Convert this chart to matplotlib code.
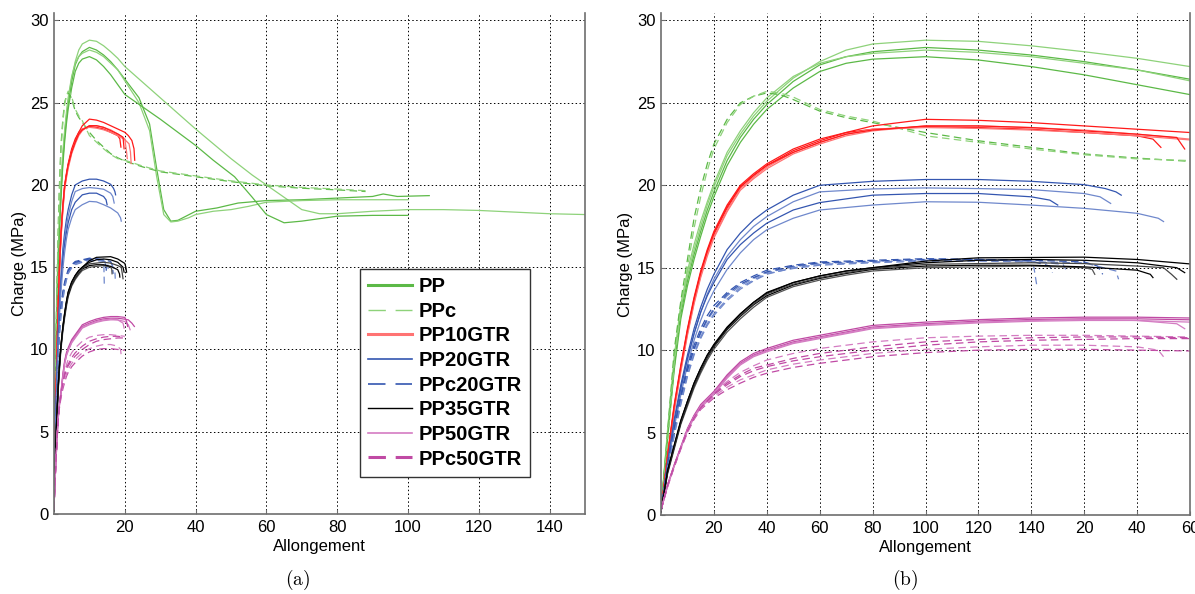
import matplotlib
matplotlib.use("Agg")
import matplotlib.pyplot as plt
from matplotlib.lines import Line2D

plt.rcParams['font.family'] = ['Liberation Sans', 'DejaVu Sans']

# elongation (panel a units) / load (MPa)
# PP (green solid): rising part shared x, then each test's own tail
pp_x = [0, 0.25, 0.5, 0.75, 1, 1.25, 1.5, 1.75, 2, 2.5, 3, 3.5, 4, 5, 6, 7, 8, 10, 12, 14, 16, 18, 20]
pp1_y = [0.3, 5.0, 9.3, 12.5, 14.5, 16.1, 17.5, 18.8, 19.9, 21.8, 23.1, 24.2, 25.1, 26.5, 27.5, 28.2, 28.57, 28.8, 28.73, 28.46, 28.1, 27.7, 27.2]
pp1_tx = [30, 40, 50, 56, 60, 65, 70, 75, 80, 90, 100, 110, 120, 130, 140, 150]
pp1_ty = [25.3, 23.4, 21.6, 20.6, 20.0, 19.25, 18.5, 18.25, 18.25, 18.4, 18.5, 18.5, 18.45, 18.35, 18.25, 18.2]
pp2_y = [0.3, 4.8, 9.0, 12.2, 14.2, 15.8, 17.2, 18.5, 19.6, 21.5, 22.9, 24.0, 24.9, 26.3, 27.3, 27.8, 28.1, 28.36, 28.2, 27.9, 27.5, 27.0, 26.5]
pp2_tx = [24, 27, 29, 31, 33, 35, 40, 46, 52, 60, 70, 80, 90, 93, 97, 106]
pp2_ty = [25.3, 23.7, 21.0, 18.5, 17.8, 17.85, 18.4, 18.6, 18.9, 19.05, 19.1, 19.2, 19.3, 19.45, 19.3, 19.35]
pp3_y = [0.3, 5.2, 9.6, 12.8, 14.8, 16.4, 17.8, 19.0, 20.1, 22.0, 23.3, 24.4, 25.3, 26.6, 27.4, 27.8, 28.0, 28.2, 28.06, 27.8, 27.4, 27.0, 26.4]
pp3_tx = [24, 27, 29, 31, 33, 35, 38, 40, 45, 50, 55, 60, 70, 80, 90, 100]
pp3_ty = [25.0, 23.3, 20.5, 18.2, 17.75, 17.8, 18.0, 18.2, 18.4, 18.5, 18.7, 18.95, 19.05, 19.1, 19.1, 19.1]
pp4_y = [0.3, 4.6, 8.8, 11.9, 13.9, 15.5, 16.9, 18.2, 19.3, 21.2, 22.6, 23.7, 24.6, 25.9, 26.9, 27.4, 27.65, 27.8, 27.6, 27.2, 26.7, 26.1, 25.5]
pp4_tx = [30, 40, 45, 51, 56, 60, 65, 70, 80, 90, 100]
pp4_ty = [24.0, 22.4, 21.5, 20.5, 19.25, 18.2, 17.7, 17.8, 18.1, 18.15, 18.15]

# PPc (green dashed)
ppc_x = [0, 0.25, 0.5, 0.75, 1, 1.25, 1.5, 1.75, 2, 2.5, 3, 3.5, 4, 4.5, 5, 6, 7, 8, 10, 12, 14, 16, 18, 20, 25, 30, 40, 50, 60, 70, 80, 88]
ppc1_y = [0.3, 5.0, 10.0, 13.0, 15.5, 18.0, 19.8, 21.3, 22.5, 24.0, 25.0, 25.4, 25.6, 25.5, 25.2, 24.5, 24.1, 23.8, 23.2, 22.7, 22.3, 21.9, 21.65, 21.45, 21.1, 20.8, 20.5, 20.2, 19.95, 19.8, 19.7, 19.6]
ppc2_y = [0.3, 4.5, 9.2, 12.4, 15.0, 17.4, 19.3, 20.9, 22.2, 23.8, 24.9, 25.4, 25.7, 25.6, 25.35, 24.6, 24.2, 23.9, 23.0, 22.6, 22.2, 21.85, 21.6, 21.5, 21.15, 20.85, 20.55, 20.25, 20.0, 19.85, 19.75, 19.65]

# PP10GTR (red)
pp10_x = [0, 0.25, 0.5, 0.75, 1, 1.25, 1.5, 1.75, 2, 2.5, 3, 3.5, 4, 5, 6, 7, 8, 10, 12, 14, 16, 18]
pp10_1_y = [0.2, 3.6, 6.5, 8.9, 11.1, 13.0, 14.6, 15.9, 17.0, 18.6, 19.9, 20.6, 21.2, 22.1, 22.7, 23.2, 23.6, 24.0, 23.94, 23.8, 23.6, 23.4]
pp10_1_tx = [20, 21, 22, 22.6, 22.8]
pp10_1_ty = [23.2, 23.0, 22.7, 22.2, 21.5]
pp10_2_y = [0.2, 3.4, 6.3, 8.7, 10.9, 12.8, 14.4, 15.7, 16.8, 18.4, 19.7, 20.4, 21.0, 21.9, 22.5, 23.0, 23.3, 23.6, 23.6, 23.5, 23.35, 23.1]
pp10_2_tx = [20, 20.5, 20.7]
pp10_2_ty = [22.8, 22.0, 21.6]
pp10_3_y = [0.2, 3.7, 6.7, 9.1, 11.3, 13.2, 14.8, 16.1, 17.2, 18.8, 20.0, 20.7, 21.3, 22.2, 22.8, 23.2, 23.4, 23.55, 23.5, 23.4, 23.2, 23.0]
pp10_3_tx = [18.6, 18.9]
pp10_3_ty = [22.8, 22.3]
pp10_4_y = [0.2, 3.5, 6.4, 8.8, 11.0, 12.9, 14.5, 15.8, 16.9, 18.5, 19.8, 20.5, 21.1, 22.0, 22.6, 23.1, 23.4, 23.5, 23.45, 23.35, 23.2, 23.0]
pp10_4_tx = [20, 21.2, 21.6, 21.8]
pp10_4_ty = [22.75, 22.5, 22.0, 21.3]
pp10_5_y = [0.2, 3.6, 6.6, 9.0, 11.2, 13.1, 14.7, 16.0, 17.1, 18.7, 19.9, 20.6, 21.2, 22.0, 22.6, 23.1, 23.35, 23.6, 23.6, 23.5, 23.3, 23.1]
pp10_5_tx = [19.5, 19.8]
pp10_5_ty = [22.9, 22.2]

# PP20GTR (blue solid)
pp20_x = [0, 0.25, 0.5, 0.75, 1, 1.25, 1.5, 1.75, 2, 2.5, 3, 3.5, 4, 5, 6, 8, 10, 12, 14]
pp20_1_y = [0.2, 3.2, 5.8, 7.9, 9.7, 11.3, 12.6, 13.7, 14.6, 16.1, 17.1, 17.9, 18.5, 19.4, 20.0, 20.24, 20.35, 20.35, 20.24]
pp20_1_tx = [16, 16.8, 17.2, 17.4]
pp20_1_ty = [20.04, 19.8, 19.6, 19.4]
pp20_2_y = [0.2, 3.0, 5.5, 7.6, 9.4, 11.0, 12.3, 13.4, 14.3, 15.7, 16.7, 17.5, 18.1, 19.0, 19.6, 19.78, 19.84, 19.8, 19.74]
pp20_2_tx = [16, 16.6, 17.0]
pp20_2_ty = [19.5, 19.3, 18.9]
pp20_3_y = [0.2, 3.1, 5.6, 7.7, 9.5, 11.0, 12.3, 13.3, 14.1, 15.5, 16.4, 17.1, 17.7, 18.5, 18.95, 19.4, 19.5, 19.5, 19.3]
pp20_3_tx = [14.7, 15.0]
pp20_3_ty = [19.1, 18.8]
pp20_4_y = [0.2, 2.9, 5.3, 7.3, 9.1, 10.6, 11.8, 12.8, 13.6, 14.9, 15.9, 16.7, 17.3, 18.0, 18.5, 18.8, 19.0, 18.97, 18.8]
pp20_4_tx = [16, 18, 18.8, 19.0]
pp20_4_ty = [18.6, 18.3, 18.0, 17.8]

# PPc20GTR (blue dashed)
ppc20_x = [0, 0.25, 0.5, 0.75, 1, 1.25, 1.5, 1.75, 2, 2.5, 3, 3.5, 4, 5, 6, 8, 10, 12, 14]
ppc20_1_y = [0.2, 2.8, 5.0, 7.0, 8.7, 10.0, 11.0, 11.8, 12.4, 13.3, 13.9, 14.35, 14.7, 15.05, 15.25, 15.4, 15.5, 15.5, 15.45]
ppc20_1_tx = [14.1, 14.2]
ppc20_1_ty = [15.0, 14.0]
ppc20_2_y = [0.2, 3.0, 5.3, 7.3, 9.0, 10.3, 11.3, 12.1, 12.7, 13.5, 14.1, 14.5, 14.85, 15.15, 15.35, 15.45, 15.55, 15.5, 15.4]
ppc20_2_tx = [14.7, 14.8]
ppc20_2_ty = [15.1, 14.7]
ppc20_3_y = [0.2, 2.6, 4.8, 6.7, 8.4, 9.7, 10.7, 11.5, 12.1, 13.0, 13.7, 14.2, 14.6, 15.0, 15.2, 15.35, 15.45, 15.45, 15.4]
ppc20_3_tx = [15.2, 15.3]
ppc20_3_ty = [15.2, 14.9]
ppc20_4_y = [0.2, 2.9, 5.1, 7.1, 8.8, 10.1, 11.1, 11.9, 12.5, 13.4, 14.0, 14.4, 14.75, 15.1, 15.3, 15.4, 15.5, 15.5, 15.45]
ppc20_4_tx = [16, 16.5, 16.7]
ppc20_4_ty = [15.35, 15.1, 14.6]
ppc20_5_y = [0.2, 2.7, 4.9, 6.8, 8.5, 9.8, 10.8, 11.6, 12.2, 13.1, 13.8, 14.25, 14.65, 14.95, 15.15, 15.3, 15.4, 15.4, 15.35]
ppc20_5_tx = [16, 17.2, 17.3]
ppc20_5_ty = [15.3, 14.8, 14.3]

# PP35GTR (black)
pp35_x = [0, 0.25, 0.5, 0.75, 1, 1.25, 1.5, 1.75, 2, 2.5, 3, 3.5, 4, 5, 6, 7, 8, 10, 12, 14, 16]
pp35_1_y = [0.2, 2.7, 4.2, 5.7, 6.9, 8.0, 8.9, 9.7, 10.35, 11.4, 12.2, 12.9, 13.45, 14.1, 14.5, 14.8, 15.0, 15.4, 15.6, 15.62, 15.64]
pp35_1_tx = [18, 20, 20.3, 20.5]
pp35_1_ty = [15.5, 15.23, 15.0, 14.7]
pp35_2_y = [0.2, 2.5, 4.0, 5.5, 6.6, 7.7, 8.6, 9.4, 10.05, 11.1, 11.9, 12.6, 13.2, 13.85, 14.25, 14.55, 14.8, 15.0, 15.05, 15.1, 15.0]
pp35_2_tx = [16.3, 16.4]
pp35_2_ty = [14.9, 14.6]
pp35_3_y = [0.2, 2.6, 4.1, 5.6, 6.75, 7.85, 8.75, 9.55, 10.2, 11.25, 12.05, 12.75, 13.3, 13.95, 14.35, 14.65, 14.9, 15.1, 15.15, 15.15, 15.05]
pp35_3_tx = [18, 18.5, 18.6]
pp35_3_ty = [14.85, 14.6, 14.4]
pp35_4_y = [0.2, 2.65, 4.15, 5.65, 6.8, 7.9, 8.8, 9.6, 10.25, 11.3, 12.1, 12.8, 13.4, 14.0, 14.4, 14.7, 14.95, 15.2, 15.25, 15.3, 15.25]
pp35_4_tx = [18, 19, 19.3, 19.5]
pp35_4_ty = [15.1, 15.0, 14.6, 14.3]
pp35_5_y = [0.2, 2.7, 4.25, 5.75, 6.9, 8.0, 8.9, 9.7, 10.3, 11.35, 12.2, 12.9, 13.5, 14.1, 14.5, 14.8, 15.0, 15.3, 15.45, 15.5, 15.45]
pp35_5_tx = [18, 19.5, 19.8]
pp35_5_ty = [15.3, 15.0, 14.7]

# PP50GTR (magenta solid)
pp50_x = [0, 0.25, 0.5, 0.75, 1, 1.25, 1.5, 2, 2.5, 3, 3.5, 4, 5, 6, 7, 8, 10, 12, 14, 16, 18]
pp50_1_y = [0.3, 1.8, 3.0, 4.1, 5.2, 6.0, 6.6, 7.4, 8.4, 9.2, 9.7, 10.0, 10.5, 10.8, 11.1, 11.4, 11.6, 11.76, 11.86, 11.9, 11.9]
pp50_1_tx = [20, 21, 22, 22.7]
pp50_1_ty = [11.84, 11.8, 11.6, 11.4]
pp50_2_y = [0.3, 1.75, 2.95, 4.05, 5.1, 5.9, 6.5, 7.3, 8.3, 9.1, 9.6, 9.9, 10.4, 10.7, 11.0, 11.3, 11.5, 11.65, 11.75, 11.8, 11.8]
pp50_2_tx = [20, 21, 21.5]
pp50_2_ty = [11.7, 11.5, 11.2]
pp50_3_y = [0.3, 1.85, 3.05, 4.15, 5.25, 6.05, 6.7, 7.5, 8.5, 9.3, 9.8, 10.1, 10.6, 10.9, 11.2, 11.5, 11.7, 11.85, 11.95, 12.0, 12.0]
pp50_3_tx = [20, 20.5, 20.8]
pp50_3_ty = [11.95, 11.7, 11.4]
pp50_4_y = [0.3, 1.8, 3.0, 4.1, 5.15, 5.95, 6.6, 7.4, 8.35, 9.15, 9.65, 9.95, 10.45, 10.75, 11.05, 11.35, 11.55, 11.7, 11.8, 11.85, 11.8]
pp50_4_tx = [19.5, 19.8]
pp50_4_ty = [11.6, 11.3]

# PPc50GTR (magenta dashed)
ppc50_x = [0, 0.25, 0.5, 0.75, 1, 1.25, 1.5, 2, 2.5, 3, 3.5, 4, 5, 6, 7, 8, 10, 12, 14, 16, 18]
ppc50_1_y = [0.3, 1.8, 3.0, 4.1, 5.1, 5.9, 6.5, 7.3, 7.9, 8.4, 8.75, 9.0, 9.35, 9.6, 9.8, 10.0, 10.3, 10.5, 10.6, 10.65, 10.7]
ppc50_1_tx = [20]
ppc50_1_ty = [10.7]
ppc50_2_y = [0.3, 1.8, 3.0, 4.1, 5.15, 5.95, 6.55, 7.4, 8.1, 8.65, 9.05, 9.4, 9.8, 10.1, 10.3, 10.5, 10.75, 10.85, 10.9, 10.9, 10.85]
ppc50_2_tx = [20]
ppc50_2_ty = [10.8]
ppc50_3_y = [0.3, 1.7, 2.9, 4.0, 5.0, 5.8, 6.4, 7.1, 7.6, 8.0, 8.35, 8.6, 8.95, 9.2, 9.4, 9.6, 9.85, 10.0, 10.05, 10.05, 10.0]
ppc50_3_tx = [20]
ppc50_3_ty = [9.95]
ppc50_4_y = [0.3, 1.75, 2.95, 4.05, 5.05, 5.85, 6.45, 7.2, 7.75, 8.2, 8.5, 8.8, 9.15, 9.4, 9.6, 9.8, 10.05, 10.2, 10.3, 10.3, 10.2]
ppc50_4_tx = [18.8, 19.0]
ppc50_4_ty = [10.0, 9.6]
ppc50_5_y = [0.3, 1.8, 3.0, 4.1, 5.1, 5.9, 6.5, 7.35, 8.0, 8.5, 8.9, 9.1, 9.5, 9.8, 10.0, 10.2, 10.5, 10.65, 10.75, 10.8, 10.8]
ppc50_5_tx = [20]
ppc50_5_ty = [10.75]

labels = ['PP', 'PPc', 'PP10GTR', 'PP20GTR', 'PPc20GTR', 'PP35GTR', 'PP50GTR', 'PPc50GTR']
b_tick_pos = [2, 4, 6, 8, 10, 12, 14, 16, 18, 20]
b_tick_labels = ['20', '40', '60', '80', '100', '120', '140', '20', '40', '60']

GREEN = '#5cb947'
GREEN_L = '#8ed27a'
RED = '#ff1a1a'
RED_L = '#ff7373'
BLUE = '#3456b0'
BLUE_L = '#6f88cc'
MAG = '#c04aa4'
MAG_L = '#d47cc2'
DASH = (6, 3.5)

curves = [
    (pp_x + pp1_tx, pp1_y + pp1_ty, GREEN_L, '-'),
    (pp_x[:-1] + pp2_tx, pp2_y[:-1] + pp2_ty, GREEN, '-'),
    (pp_x[:-1] + pp3_tx, pp3_y[:-1] + pp3_ty, GREEN_L, '-'),
    (pp_x + pp4_tx, pp4_y + pp4_ty, GREEN, '-'),
    (ppc_x, ppc1_y, GREEN, '--'), (ppc_x, ppc2_y, GREEN_L, '--'),
    (pp10_x + pp10_1_tx, pp10_1_y + pp10_1_ty, RED, '-'),
    (pp10_x + pp10_2_tx, pp10_2_y + pp10_2_ty, RED_L, '-'),
    (pp10_x + pp10_3_tx, pp10_3_y + pp10_3_ty, RED, '-'),
    (pp10_x + pp10_4_tx, pp10_4_y + pp10_4_ty, RED_L, '-'),
    (pp10_x + pp10_5_tx, pp10_5_y + pp10_5_ty, RED, '-'),
    (pp20_x + pp20_1_tx, pp20_1_y + pp20_1_ty, BLUE, '-'),
    (pp20_x + pp20_2_tx, pp20_2_y + pp20_2_ty, BLUE_L, '-'),
    (pp20_x + pp20_3_tx, pp20_3_y + pp20_3_ty, BLUE, '-'),
    (pp20_x + pp20_4_tx, pp20_4_y + pp20_4_ty, BLUE_L, '-'),
    (ppc20_x + ppc20_1_tx, ppc20_1_y + ppc20_1_ty, BLUE_L, '--'),
    (ppc20_x + ppc20_2_tx, ppc20_2_y + ppc20_2_ty, BLUE, '--'),
    (ppc20_x + ppc20_3_tx, ppc20_3_y + ppc20_3_ty, BLUE_L, '--'),
    (ppc20_x + ppc20_4_tx, ppc20_4_y + ppc20_4_ty, BLUE, '--'),
    (ppc20_x + ppc20_5_tx, ppc20_5_y + ppc20_5_ty, BLUE_L, '--'),
    (pp35_x + pp35_1_tx, pp35_1_y + pp35_1_ty, 'black', '-'),
    (pp35_x + pp35_2_tx, pp35_2_y + pp35_2_ty, '#555555', '-'),
    (pp35_x + pp35_3_tx, pp35_3_y + pp35_3_ty, 'black', '-'),
    (pp35_x + pp35_4_tx, pp35_4_y + pp35_4_ty, '#444444', '-'),
    (pp35_x + pp35_5_tx, pp35_5_y + pp35_5_ty, 'black', '-'),
    (pp50_x + pp50_1_tx, pp50_1_y + pp50_1_ty, MAG, '-'),
    (pp50_x + pp50_2_tx, pp50_2_y + pp50_2_ty, MAG_L, '-'),
    (pp50_x + pp50_3_tx, pp50_3_y + pp50_3_ty, MAG, '-'),
    (pp50_x + pp50_4_tx, pp50_4_y + pp50_4_ty, MAG_L, '-'),
    (ppc50_x + ppc50_1_tx, ppc50_1_y + ppc50_1_ty, MAG, '--'),
    (ppc50_x + ppc50_2_tx, ppc50_2_y + ppc50_2_ty, MAG_L, '--'),
    (ppc50_x + ppc50_3_tx, ppc50_3_y + ppc50_3_ty, MAG, '--'),
    (ppc50_x + ppc50_4_tx, ppc50_4_y + ppc50_4_ty, MAG_L, '--'),
    (ppc50_x + ppc50_5_tx, ppc50_5_y + ppc50_5_ty, MAG, '--'),
]


def style_axes(ax):
    ax.set_ylim(0, 30.45)
    ax.set_yticks([0, 5, 10, 15, 20, 25, 30])
    ax.grid(True, color='black', linestyle=(0, (1.5, 2.5)), linewidth=0.7)
    ax.set_axisbelow(True)
    ax.spines['top'].set_visible(False)
    for s in ['left', 'right', 'bottom']:
        ax.spines[s].set_color('#6e6e6e')
        ax.spines[s].set_linewidth(1.2)
    ax.tick_params(direction='in', length=3, labelsize=12, pad=4, color='#6e6e6e')
    ax.set_xlabel('Allongement', fontsize=12)
    ax.set_ylabel('Charge (MPa)', fontsize=12)


def draw_curves(ax):
    for x, y, c, ls in curves:
        if ls == '--':
            ax.plot(x, y, color=c, lw=0.9, dashes=DASH)
        else:
            ax.plot(x, y, color=c, lw=0.9)


fig = plt.figure(figsize=(11.95, 5.94), dpi=100)
ax_a = fig.add_axes([54 / 1195, 80 / 594, 531 / 1195, 501 / 594])
ax_b = fig.add_axes([661 / 1195, 79 / 594, 529 / 1195, 502 / 594])

draw_curves(ax_a)
draw_curves(ax_b)

style_axes(ax_a)
ax_a.set_xlim(0, 150)
ax_a.set_xticks([20, 40, 60, 80, 100, 120, 140])
ax_a.yaxis.set_label_coords(-0.05, 0.5)
ax_a.xaxis.set_label_coords(0.5, -0.05)

style_axes(ax_b)
ax_b.set_xlim(0, 20)
ax_b.set_xticks(b_tick_pos)
ax_b.set_xticklabels(b_tick_labels)
ax_b.yaxis.set_label_coords(-0.052, 0.5)
ax_b.xaxis.set_label_coords(0.5, -0.05)

handles = [
    Line2D([], [], color=GREEN, lw=2.2),
    Line2D([], [], color=GREEN_L, lw=1.0, dashes=(12.5, 7)),
    Line2D([], [], color=RED_L, lw=2.2),
    Line2D([], [], color=BLUE, lw=1.2),
    Line2D([], [], color=BLUE, lw=1.2, dashes=(10.5, 6)),
    Line2D([], [], color='black', lw=1.0),
    Line2D([], [], color=MAG_L, lw=1.2),
    Line2D([], [], color=MAG, lw=2.2, dashes=(5.7, 3.2)),
]
leg = ax_a.legend(handles, labels, loc='upper left', bbox_to_anchor=(0.576, 0.489),
                  prop={'weight': 'bold', 'size': 14.5}, handlelength=2.2,
                  handletextpad=0.3, labelspacing=0.28, borderpad=0.4,
                  borderaxespad=0, fancybox=False, framealpha=1)
leg.get_frame().set_edgecolor('#333333')
leg.get_frame().set_linewidth(1.0)

fig.text(298 / 1195, 14 / 594, r'$\mathrm{(a)}$', ha='center', va='center',
         fontsize=14, math_fontfamily='cm')
fig.text(905 / 1195, 14 / 594, r'$\mathrm{(b)}$', ha='center', va='center',
         fontsize=14, math_fontfamily='cm')

fig.savefig('out.png', dpi=100)
